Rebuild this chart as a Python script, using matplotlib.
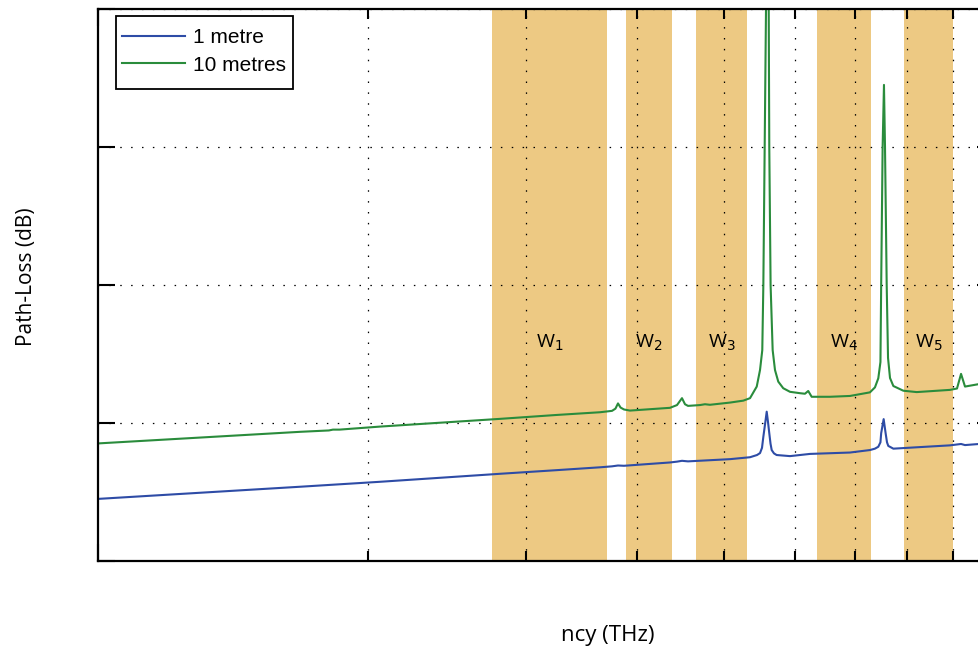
"""
plot.py

Path-loss vs frequency for 1 m and 10 m links, with the
transmission windows W1..W5 shaded.
"""

import matplotlib
matplotlib.use("Agg")
import matplotlib.pyplot as plt
from matplotlib.patches import Rectangle
import numpy as np

# frequencies in THz, path loss in dB
freq_1m = [0.100, 0.168, 0.2064, 0.281, 0.3245, 0.3634, 0.3747, 0.3805, 0.3864,
           0.4349, 0.4428, 0.4485, 0.4555, 0.5074, 0.5342, 0.5439, 0.5481, 0.5509,
           0.5528, 0.5552, 0.5576, 0.5594, 0.5613, 0.5631, 0.5648, 0.5681, 0.5720,
           0.592, 0.6232, 0.6907, 0.7270, 0.7364, 0.7428, 0.7469, 0.7483, 0.7531,
           0.7569, 0.7596, 0.7621, 0.7721, 0.8198, 0.8931, 0.9188, 0.9282, 0.9622,
           1.000]
loss_1m = [72.5, 76.9, 78.7, 81.6, 82.9, 83.95, 84.3, 84.6, 84.5,
           85.7, 86.0, 86.3, 86.1, 86.9, 87.6, 88.4, 89.1, 91.0,
           95.0, 99.5, 104.1, 100.5, 96.3, 92.5, 90.2, 89.0, 88.4,
           88.0, 88.8, 89.3, 90.2, 90.7, 91.4, 93.0, 96.3, 101.4,
           96.3, 93.0, 91.7, 90.7, 91.2, 91.9, 92.4, 92.0, 92.4,
           92.7]

freq_10m = [0.100, 0.168, 0.181, 0.1829, 0.186, 0.2064, 0.281, 0.3245, 0.3634,
            0.3747, 0.3780, 0.3805, 0.3830, 0.3864, 0.3924, 0.4349, 0.4428, 0.4485,
            0.4520, 0.4555, 0.4697, 0.4758, 0.4819, 0.5074, 0.5250, 0.5342, 0.5435,
            0.5481, 0.5513, 0.5528, 0.5547, 0.5566, 0.5580, 0.5605, 0.5613, 0.5632,
            0.5662, 0.5696, 0.5744, 0.5818, 0.5920, 0.6074, 0.6152, 0.6204, 0.6259,
            0.6561, 0.6907, 0.7270, 0.7364, 0.7428, 0.7469, 0.7483, 0.7511, 0.7537,
            0.7557, 0.7590, 0.7616, 0.7655, 0.7721, 0.7921, 0.8198, 0.8931, 0.9093,
            0.9188, 0.9282, 0.9622, 1.000]
loss_10m = [92.6, 96.8, 97.3, 97.6, 97.6, 98.7, 101.5, 102.9, 103.9,
            104.4, 105.2, 107.1, 105.6, 104.9, 104.5, 105.5, 106.5, 109.0,
            106.8, 106.2, 106.5, 106.8, 106.6, 107.4, 108.1, 109.0, 113.2,
            119.2, 126.4, 150.0, 200.0, 250.0, 310.0, 250.0, 200.0, 150.0,
            126.4, 119.2, 115.0, 112.6, 111.3, 110.8, 110.6, 111.6, 109.5,
            109.5, 109.8, 111.1, 112.9, 116.2, 122.1, 150.0, 200.0, 222.5,
            200.0, 150.0, 123.6, 116.3, 113.4, 111.7, 111.2, 112.0, 112.5,
            117.8, 113.2, 114.1, 114.5]

# transmission windows (THz)
window_names = ["W$_1$", "W$_2$", "W$_3$", "W$_4$", "W$_5$"]
window_lo = [0.2753, 0.3886, 0.465, 0.635, 0.794]
window_hi = [0.370, 0.437, 0.530, 0.729, 0.900]

y_ticks = [50, 100, 150, 200, 250]


def main():
    fig = plt.figure(figsize=(9.79, 6.5), dpi=100)
    # right edge of the axes sits just outside the canvas, like the cropped original
    ax = fig.add_axes([98 / 979, 89 / 650, 896 / 979, 552 / 650])

    for lo, hi, name in zip(window_lo, window_hi, window_names):
        ax.axvspan(lo, hi, color="#EDC983", lw=0, zorder=0.5)
        ax.text(np.sqrt(lo * hi), 129, name, ha="center", va="center",
                fontsize=14, family="Open Sans", zorder=3)

    ax.plot(freq_1m, loss_1m, color="#2E4CA6", lw=1.5, label="1 metre", zorder=2)
    ax.plot(freq_10m, loss_10m, color="#2A8C3C", lw=1.5, label="10 metres", zorder=2)

    ax.set_xscale("log")
    ax.set_xlim(0.1, 1.0)
    ax.set_ylim(50, 250)
    ax.set_yticks(y_ticks)

    ax.set_axisbelow("line")
    grid_style = dict(color="black", lw=0.9, linestyle=(0, (1.2, 7.5)))
    ax.grid(True, which="minor", axis="x", **grid_style)
    ax.grid(True, which="major", axis="y", **grid_style)

    ax.tick_params(which="both", direction="in", top=True, right=True,
                   labelbottom=False, labelleft=False, width=1.5, color="black")
    ax.tick_params(which="major", length=12)
    ax.tick_params(which="minor", length=7)
    for spine in ax.spines.values():
        spine.set_linewidth(1.6)

    # MATLAB-style legend box: more room below the entries than above
    box = Rectangle((0.0201, 0.8551), 0.1975, 0.1322, transform=ax.transAxes,
                    facecolor="white", edgecolor="black", lw=1.3, zorder=4)
    ax.add_patch(box)
    leg = ax.legend(loc="upper left", bbox_to_anchor=(0.0201, 0.9764),
                    borderaxespad=0, frameon=False,
                    prop={"family": "Liberation Sans", "size": 15},
                    handlelength=3.0, handletextpad=0.4, borderpad=0.3,
                    labelspacing=0.4)
    leg.set_zorder(5)

    fig.text(27 / 979, 1 - 277 / 650, "Path-Loss (dB)", rotation=90,
             ha="center", va="center", fontsize=15, family="Open Sans")
    fig.text(608 / 979, 1 - 636 / 650, "ncy (THz)", ha="center", va="center",
             fontsize=16, family="Open Sans")

    fig.savefig("out.png", dpi=100)


if __name__ == "__main__":
    main()
